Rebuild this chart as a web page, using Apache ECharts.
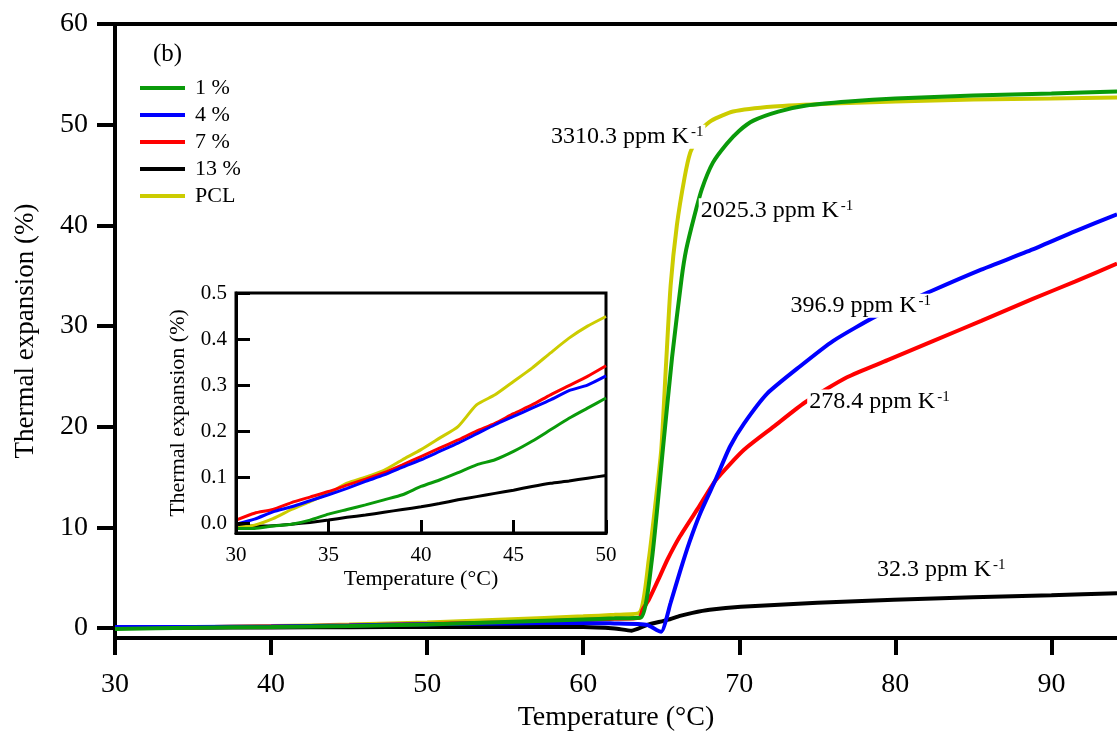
<!DOCTYPE html>
<html>
<head>
<meta charset="utf-8">
<title>Thermal expansion</title>
<style>
  body { margin: 0; background: #fff; }
  #main { width: 1117px; height: 734px; }
</style>
</head>
<body>
<div id="main"></div>
<script src="https://cdn.jsdelivr.net/npm/echarts@6/dist/echarts.min.js"></script>
<script>
// main plot: temperature (°C) / thermal expansion (%)
var temp1 = [30, 35, 40, 45, 50, 55, 60, 62, 63.7, 64.4, 65.1, 65.7, 66.3, 66.6, 67.1, 67.6, 68.3, 69.2, 70.0, 70.9, 72.5, 74.3, 77, 80, 85, 90, 94.2];
var exp1 = [-0.1, 0.03, 0.09, 0.18, 0.35, 0.6, 0.85, 0.95, 1.05, 6.8, 17.7, 27, 34.7, 37.6, 40.8, 43.6, 46.2, 48.1, 49.4, 50.4, 51.3, 51.9, 52.3, 52.6, 52.9, 53.1, 53.3];

var temp4 = [30, 35, 40, 45, 50, 55, 60, 62, 63.5, 64.1, 64.7, 65.0, 65.6, 66.2, 66.8, 67.5, 68.5, 69.4, 70.3, 71.8, 73.9, 76.0, 78.8, 82.2, 85.5, 88.8, 91.5, 94.2];
var exp4 = [0.1, 0.1, 0.15, 0.25, 0.37, 0.45, 0.5, 0.45, 0.4, 0.3, -0.2, -0.37, 2.5, 5.6, 8.5, 11.4, 14.8, 18.0, 20.3, 23.3, 26.0, 28.5, 31.0, 33.4, 35.6, 37.6, 39.4, 41.1];

var temp7 = [30, 35, 40, 45, 50, 55, 60, 62, 63.6, 63.8, 64.2, 64.9, 65.4, 66.2, 67.4, 68.5, 70.3, 72.2, 74.2, 76.9, 79.5, 82.4, 85.5, 88.8, 91.5, 94.2];
var exp7 = [0.02, 0.07, 0.15, 0.24, 0.38, 0.55, 0.8, 0.9, 1.0, 1.8, 2.8, 5.1, 6.8, 9.1, 12.0, 14.7, 17.7, 20.0, 22.4, 24.9, 26.6, 28.5, 30.5, 32.7, 34.4, 36.2];

var temp13 = [30, 35, 40, 45, 50, 55, 60, 62, 63.1, 64.1, 65.4, 66.2, 67, 68.1, 70.1, 75, 79.9, 85, 90, 94.2];
var exp13 = [0.0, 0.02, 0.05, 0.08, 0.1, 0.1, 0.1, -0.05, -0.27, 0.3, 0.8, 1.2, 1.5, 1.8, 2.1, 2.5, 2.8, 3.05, 3.25, 3.45];

var tempPCL = [30, 35, 40, 45, 50, 55, 60, 62, 63.6, 64.2, 64.6, 65.0, 65.3, 65.6, 66.0, 66.5, 66.85, 67.3, 67.6, 68.2, 69.6, 72.2, 76, 80, 85, 90, 94.2];
var expPCL = [0.0, 0.08, 0.18, 0.33, 0.55, 0.85, 1.15, 1.3, 1.5, 6.8, 12, 17.7, 26, 34, 40, 44.8, 47.2, 48.7, 49.6, 50.4, 51.3, 51.8, 52.1, 52.3, 52.5, 52.6, 52.7];

// inset: 30-50 °C
var insetTemp = [30, 31, 32, 33, 34, 35, 36, 37, 38, 39, 40, 41, 42, 43, 44, 45, 46, 47, 48, 49, 50];
var inset1 = [-0.011, -0.011, -0.006, -0.002, 0.007, 0.02, 0.03, 0.04, 0.051, 0.062, 0.08, 0.094, 0.11, 0.127, 0.138, 0.156, 0.178, 0.203, 0.228, 0.25, 0.272];
var inset4 = [-0.002, 0.009, 0.025, 0.036, 0.049, 0.062, 0.076, 0.091, 0.105, 0.122, 0.138, 0.156, 0.174, 0.194, 0.214, 0.232, 0.25, 0.268, 0.288, 0.3, 0.32];
var inset7 = [0.007, 0.022, 0.03, 0.045, 0.057, 0.069, 0.083, 0.096, 0.11, 0.127, 0.145, 0.163, 0.181, 0.2, 0.217, 0.238, 0.257, 0.279, 0.299, 0.319, 0.342];
var inset13 = [-0.007, -0.006, -0.005, -0.002, 0.002, 0.007, 0.013, 0.018, 0.024, 0.03, 0.036, 0.043, 0.051, 0.058, 0.065, 0.072, 0.08, 0.087, 0.092, 0.098, 0.104];
var insetPCL = [-0.01, -0.004, 0.01, 0.03, 0.047, 0.065, 0.087, 0.1, 0.115, 0.138, 0.16, 0.185, 0.21, 0.257, 0.279, 0.308, 0.337, 0.37, 0.402, 0.428, 0.449];

var names = ['1 %', '4 %', '7 %', '13 %', 'PCL'];
var colors = ['#0a9a0a', '#0000ff', '#ff0000', '#000000', '#cccc00'];

var xTicks = [30, 40, 50, 60, 70, 80, 90];
var yTicks = [0, 10, 20, 30, 40, 50, 60];
var insetYTicks = [0, 0.1, 0.2, 0.3, 0.4, 0.5];

// slope labels: text, anchor (left-middle of text) in data coords
var slopeText = ['3310.3', '2025.3', '396.9', '278.4', '32.3'];
var slopeAt = [[57.8, 48.8], [67.4, 41.5], [73.15, 32.0], [74.35, 22.5], [78.7, 5.8]];
var slopeSeries = [4, 0, 1, 2, 3];

function zip(a, b) {
    var out = [];
    for (var i = 0; i < a.length; i++) out.push([a[i], b[i]]);
    return out;
}

var FONT = 'Liberation Serif, Times New Roman, serif';
var mainTemps = [temp1, temp4, temp7, temp13, tempPCL];
var mainExps = [exp1, exp4, exp7, exp13, expPCL];
var insetExps = [inset1, inset4, inset7, inset13, insetPCL];
var drawOrder = [3, 4, 2, 1, 0];

var series = [];
drawOrder.forEach(function (k) {
    var marks = [];
    for (var j = 0; j < slopeText.length; j++) {
        if (slopeSeries[j] === k) {
            marks.push({ coord: slopeAt[j], value: '{a|' + slopeText[j] + ' ppm K}{s|-1}' });
        }
    }
    series.push({
        name: names[k], type: 'line', xAxisIndex: 0, yAxisIndex: 0,
        data: zip(mainTemps[k], mainExps[k]), showSymbol: false, smooth: 0.2,
        lineStyle: { color: colors[k], width: 4 }, itemStyle: { color: colors[k] },
        markPoint: marks.length ? {
            symbol: 'circle', symbolSize: 0, z: 10,
            label: {
                show: true, position: 'right', distance: 0,
                formatter: function (p) { return p.value; },
                backgroundColor: '#fff', padding: [0, 2],
                rich: {
                    a: { fontFamily: FONT, fontSize: 24, color: '#000' },
                    s: { fontFamily: FONT, fontSize: 15, color: '#000', verticalAlign: 'top', padding: [0, 0, 0, 2] }
                }
            },
            data: marks
        } : undefined
    });
});
drawOrder.forEach(function (k) {
    series.push({
        name: names[k], type: 'line', xAxisIndex: 1, yAxisIndex: 1,
        data: zip(insetTemp, insetExps[k]), showSymbol: false, smooth: 0.2, z: 4,
        lineStyle: { color: colors[k], width: 3 }, itemStyle: { color: colors[k] }
    });
});

var axisLine = { show: true, onZero: false, lineStyle: { color: '#000', width: 4 } };
var insetLine = { show: true, onZero: false, lineStyle: { color: '#000', width: 3 } };

var option = {
    animation: false,
    backgroundColor: '#fff',
    title: {
        text: '(b)', left: 148, top: 37,
        textStyle: { fontFamily: FONT, fontSize: 25, fontWeight: 'normal', color: '#000' }
    },
    legend: {
        data: names, orient: 'vertical', left: 135, top: 72,
        icon: 'rect', itemWidth: 45, itemHeight: 4, itemGap: 5,
        textStyle: { fontFamily: FONT, fontSize: 22, lineHeight: 22, color: '#000', padding: [0, 0, 0, 5] }
    },
    grid: [
        { left: 115, top: 24, right: 0, bottom: 96, outerBoundsMode: 'none' },
        { left: 236, top: 293, width: 370, height: 240, outerBoundsMode: 'none', show: true, backgroundColor: '#fff', borderColor: '#000', borderWidth: 3 }
    ],
    xAxis: [
        {
            type: 'value', gridIndex: 0, min: 30, max: 94.2,
            name: 'Temperature (°C)', nameLocation: 'middle', nameGap: 66,
            nameTextStyle: { fontFamily: FONT, fontSize: 28, color: '#000' },
            axisLine: axisLine,
            axisTick: { show: true, length: 17, customValues: xTicks, lineStyle: { color: '#000', width: 4 } },
            axisLabel: { customValues: xTicks, margin: 33, fontFamily: FONT, fontSize: 28, color: '#000' },
            splitLine: { show: false }
        },
        {
            type: 'value', gridIndex: 1, min: 30, max: 50, interval: 5,
            name: 'Temperature (°C)', nameLocation: 'middle', nameGap: 35,
            nameTextStyle: { fontFamily: FONT, fontSize: 22, color: '#000' },
            axisLine: insetLine,
            axisTick: { show: true, inside: true, length: 13, lineStyle: { color: '#000', width: 3 } },
            axisLabel: { margin: 12, fontFamily: FONT, fontSize: 21, color: '#000' },
            splitLine: { show: false }, z: 6
        },
        {
            type: 'value', gridIndex: 0, position: 'top', min: 30, max: 94.2,
            axisLine: axisLine, axisTick: { show: false }, axisLabel: { show: false }, splitLine: { show: false }
        }
    ],
    yAxis: [
        {
            type: 'value', gridIndex: 0, min: -1, max: 60,
            name: 'Thermal expansion (%)', nameLocation: 'middle', nameGap: 76,
            nameTextStyle: { fontFamily: FONT, fontSize: 27, color: '#000' },
            axisLine: axisLine,
            axisTick: { show: true, length: 18, customValues: yTicks, lineStyle: { color: '#000', width: 4 } },
            axisLabel: { customValues: yTicks, margin: 27, fontFamily: FONT, fontSize: 28, color: '#000' },
            splitLine: { show: false }
        },
        {
            type: 'value', gridIndex: 1, min: -0.021, max: 0.5,
            name: 'Thermal expansion (%)', nameLocation: 'middle', nameGap: 47,
            nameTextStyle: { fontFamily: FONT, fontSize: 22, color: '#000' },
            axisLine: insetLine,
            axisTick: { show: true, inside: true, length: 14, customValues: insetYTicks, lineStyle: { color: '#000', width: 3 } },
            axisLabel: {
                customValues: insetYTicks, margin: 9, fontFamily: FONT, fontSize: 21, color: '#000',
                formatter: function (v) { return v.toFixed(1); }
            },
            splitLine: { show: false }, z: 6
        }
    ],
    series: series
};

var chart = echarts.init(document.getElementById('main'));
chart.setOption(option);
</script>
</body>
</html>
